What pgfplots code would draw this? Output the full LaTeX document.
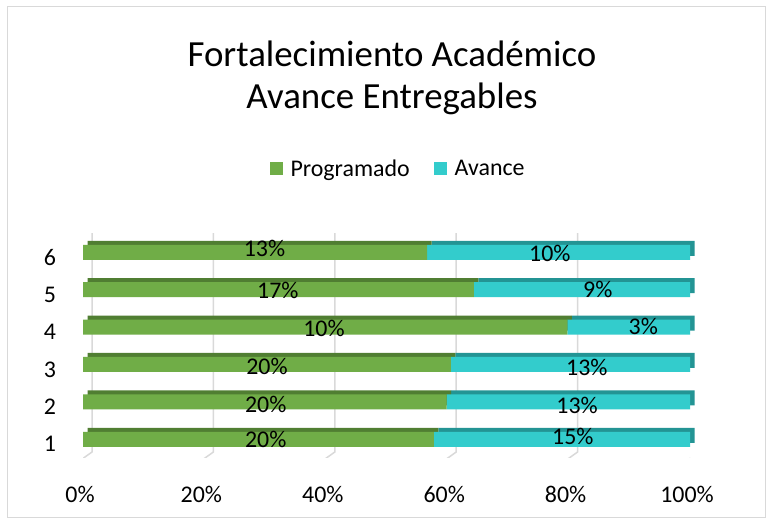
\documentclass[border=0pt]{standalone}
\usepackage{fontspec}
\setmainfont{Carlito}
\usepackage{pgfplots}
\pgfplotsset{compat=1.18}
\usepackage{pgfplotstable}
\definecolor{verde}{HTML}{70AD47}
\definecolor{verdeosc}{HTML}{507E32}
\definecolor{turq}{HTML}{33CCCC}
\definecolor{turqosc}{HTML}{239494}
\definecolor{rejilla}{HTML}{D9D9D9}

% porcentaje de la barra (100%)
\pgfplotstableread{
fila prog av
1 57.8 42.2
2 59.9 40.1
3 60.6 39.4
4 79.8 20.2
5 64.4 35.6
6 56.7 43.3
}\avance

% etiquetas de datos, en la posicion del original
\pgfplotstableread{
x y lab
30.1 0.99 20\%
80.7 1.08 15\%
30.1 1.94 20\%
81.4 1.90 13\%
30.3 2.94 20\%
83.0 2.93 13\%
39.7 3.955 10\%
92.3 4.02 3\%
32.1 4.98 17\%
84.8 5.00 9\%
29.9 6.094 13\%
76.9 5.96 10\%
}\etiquetas

\pgfplotsset{base/.style={scale only axis, width=607bp, height=224.4bp,
  xmin=0, xmax=100, ymin=0.5, ymax=6.5, anchor=south west}}

\begin{document}
\begin{tikzpicture}[x=1bp,y=1bp]
\fill[white] (0,0) rectangle (768,520);
\draw[rejilla, line width=1bp] (7,2) rectangle (765,513);

\node[anchor=base, font=\fontsize{37}{44}\selectfont] at (392,453) {Fortalecimiento Académico};
\node[anchor=base, font=\fontsize{37}{44}\selectfont] at (392,411) {Avance Entregables};

% rejilla con perspectiva
\begin{axis}[base, at={(83bp,62bp)}, hide axis]
\pgfplotsinvokeforeach{0,20,40,60,80,100}{
  \draw[rejilla, line width=1.5bp]
    ([xshift=9bp,yshift=10bp]axis cs:#1,6.5) --
    ([xshift=9bp,yshift=6bp]axis cs:#1,0.5) --
    ([xshift=-5bp,yshift=-4bp]axis cs:#1,0.5);
}
\end{axis}

% cara superior y lateral (copia desplazada, mas oscura)
\begin{axis}[base, at={(87.5bp,66bp)}, hide axis, xbar stacked, bar width=15bp]
\addplot[fill=verdeosc, draw=none] table[x=prog, y=fila]{\avance};
\addplot[fill=turqosc, draw=none] table[x=av, y=fila]{\avance};
\end{axis}

% cara frontal
\begin{axis}[base, at={(83bp,62bp)}, xbar stacked, bar width=15bp,
  axis line style={draw=none}, major tick length=0pt,
  xtick={0,20,40,60,80,100},
  xticklabels={0\%,20\%,40\%,60\%,80\%,100\%},
  ytick={1,2,3,4,5,6},
  yticklabels={1,2,3,4,5,6},
  ticklabel style={font=\fontsize{24}{28}\selectfont},
  xticklabel style={anchor=center, yshift=-36bp, xshift=-3bp},
  yticklabel style={anchor=center, xshift=-33bp, yshift=-5bp},
  legend style={at={(0.519,1.29)}, anchor=center, draw=none, fill=none,
    legend columns=2, font=\fontsize{24}{28}\selectfont,
    /tikz/every odd column/.append style={column sep=6bp},
    /tikz/every even column/.append style={column sep=22bp}},
  legend image code/.code={\fill[#1] (0bp,-6.5bp) rectangle (13bp,6.5bp);},
]
\addplot[fill=verde, draw=none] table[x=prog, y=fila]{\avance};
\addlegendentry{Programado}
\addplot[fill=turq, draw=none] table[x=av, y=fila]{\avance};
\addlegendentry{Avance}
\end{axis}

% etiquetas de datos
\begin{axis}[base, at={(83bp,62bp)}, hide axis]
\addplot[draw=none, nodes near coords, point meta=explicit symbolic,
  every node near coord/.style={anchor=center, font=\fontsize{24}{28}\selectfont}]
  table[x=x, y=y, meta=lab]{\etiquetas};
\end{axis}
\end{tikzpicture}
\end{document}
